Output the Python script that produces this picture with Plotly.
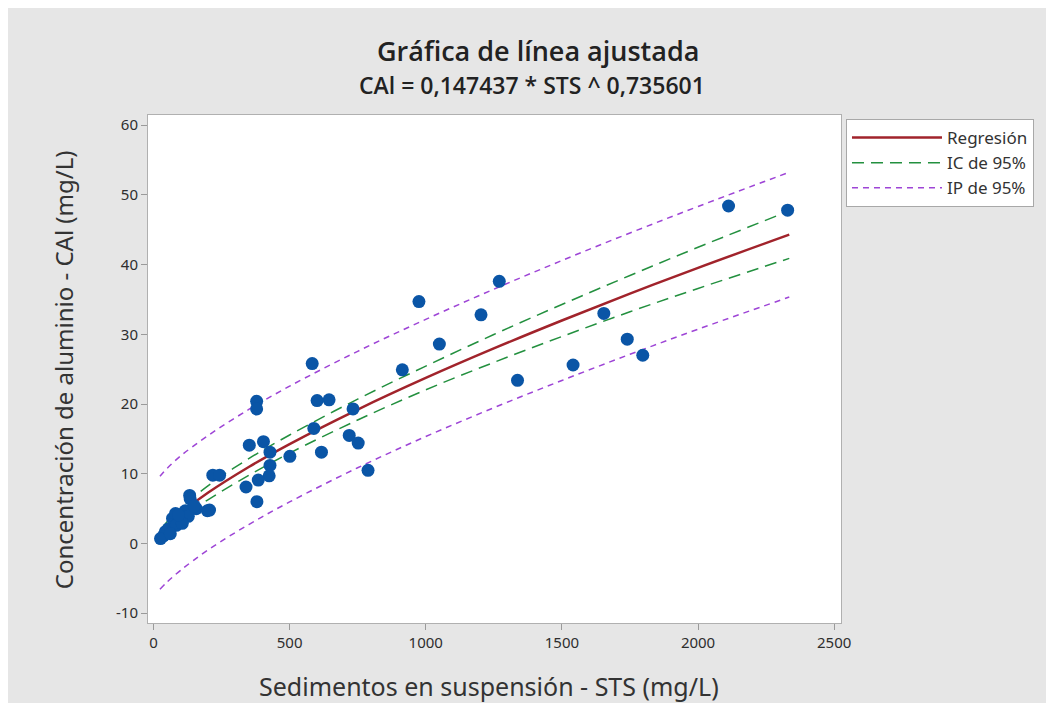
import plotly.graph_objects as go

sts = [2329, 2112, 1654, 1740, 1797, 1541, 1270, 975, 1203, 1050, 914, 583, 1337,
       601, 645, 733, 589, 719, 752, 617, 788,
       379, 379, 352, 404, 428, 501, 428, 425, 385, 340, 380, 218, 243, 133, 206,
       37, 55, 70, 81, 99, 117, 135, 157, 198, 128, 84, 44, 26, 62, 106, 92, 150]
cal = [47.8, 48.4, 33.0, 29.3, 27.0, 25.6, 37.6, 34.7, 32.8, 28.6, 24.9, 25.8, 23.4,
       20.5, 20.6, 19.3, 16.5, 15.5, 14.4, 13.1, 10.5,
       20.4, 19.3, 14.1, 14.6, 13.1, 12.5, 11.2, 9.7, 9.1, 8.1, 6.0, 9.8, 9.8, 6.9, 4.8,
       1.1, 2.1, 3.6, 4.3, 3.6, 4.7, 6.4, 5.0, 4.7, 3.9, 2.6, 1.7, 0.7, 1.4, 2.9, 4.1, 5.4]

# Fitted line, confidence and prediction bands
curve_x = [24, 50, 100, 200, 350, 500, 750, 1000, 1250, 1500, 1750, 2000, 2335]
fit_y = [1.53, 2.62, 4.36, 7.27, 10.97, 14.26, 19.21, 23.74, 27.97, 31.98, 35.83, 39.53, 44.29]
ci_up = [1.83, 3.12, 5.06, 8.27, 12.17, 15.56, 20.71, 25.44, 29.97, 34.28, 38.43, 42.48, 47.69]
ci_lo = [1.23, 2.12, 3.66, 6.27, 9.77, 12.96, 17.71, 22.04, 25.97, 29.68, 33.23, 36.58, 40.89]
pi_up = [9.63, 10.77, 12.56, 15.47, 19.22, 22.56, 27.56, 32.14, 36.47, 40.58, 44.53, 48.33, 53.24]
pi_lo = [-6.57, -5.53, -3.84, -0.93, 2.72, 5.96, 10.86, 15.34, 19.47, 23.38, 27.13, 30.73, 35.34]

x_ticks = [0, 500, 1000, 1500, 2000, 2500]
y_ticks = [-10, 0, 10, 20, 30, 40, 50, 60]

FONT = "Noto Sans"
TITLE_FONT = "Open Sans"
RED = "#A1232B"
GREEN = "#23903F"
PURPLE = "#9E45D6"
BLUE = "#0A55A6"

fig = go.Figure()
fig.add_trace(go.Scatter(x=curve_x, y=fit_y, mode="lines", name="Regresión",
                         line=dict(color=RED, width=2.5, shape="spline")))
fig.add_trace(go.Scatter(x=curve_x, y=ci_up, mode="lines", name="IC de 95%", legendgroup="ci",
                         line=dict(color=GREEN, width=1.5, dash="12px,7px", shape="spline")))
fig.add_trace(go.Scatter(x=curve_x, y=ci_lo, mode="lines", name="IC de 95%", legendgroup="ci",
                         showlegend=False,
                         line=dict(color=GREEN, width=1.5, dash="12px,7px", shape="spline")))
fig.add_trace(go.Scatter(x=curve_x, y=pi_up, mode="lines", name="IP de 95%", legendgroup="pi",
                         line=dict(color=PURPLE, width=1.5, dash="6px,5px", shape="spline")))
fig.add_trace(go.Scatter(x=curve_x, y=pi_lo, mode="lines", name="IP de 95%", legendgroup="pi",
                         showlegend=False,
                         line=dict(color=PURPLE, width=1.5, dash="6px,5px", shape="spline")))
fig.add_trace(go.Scatter(x=sts, y=cal, mode="markers", showlegend=False,
                         marker=dict(color=BLUE, size=13, line=dict(width=0))))

# Page has an 8px body margin; positions below are given in window pixels.
OFF = 8
W, H = 1038, 695
plot_left, plot_right, plot_top, plot_bottom = 148, 843, 115, 623
L = plot_left - OFF
R = W - (plot_right - OFF)
T = plot_top - OFF
B = H - (plot_bottom - OFF)
pw, ph = W - L - R, H - T - B


def px_to_paper_x(px):
    return (px - OFF - L) / pw


def py_to_paper_y(py):
    return (H - B - (py - OFF)) / ph


fig.update_layout(
    width=W, height=H,
    margin=dict(l=L, r=R, t=T, b=B),
    paper_bgcolor="#E6E6E6",
    plot_bgcolor="white",
    font=dict(family=FONT, color="#333333"),
    legend=dict(x=px_to_paper_x(848), y=py_to_paper_y(119), xanchor="left", yanchor="top",
                bgcolor="white", bordercolor="#A8A8A8", borderwidth=1,
                font=dict(size=17, family=FONT, color="#333333"),
                itemwidth=90, tracegroupgap=0),
    xaxis=dict(range=[-20, 2525], tickvals=x_ticks, ticktext=[str(v) for v in x_ticks],
               ticks="outside", ticklen=6, tickcolor="#9A9A9A",
               showline=True, mirror=True, linecolor="#B0B0B0", linewidth=1,
               showgrid=False, zeroline=False,
               tickfont=dict(size=15, family=FONT, color="#2E2E2E")),
    yaxis=dict(range=[-11.4, 61.45], tickvals=y_ticks, ticktext=[str(v) for v in y_ticks],
               ticks="outside", ticklen=6, tickcolor="#9A9A9A",
               showline=True, mirror=True, linecolor="#B0B0B0", linewidth=1,
               showgrid=False, zeroline=False,
               tickfont=dict(size=15, family=FONT, color="#2E2E2E")),
    annotations=[
        dict(text="Gráfica de línea ajustada", x=px_to_paper_x(539), y=py_to_paper_y(50),
             xref="paper", yref="paper", showarrow=False, xanchor="center", yanchor="middle",
             font=dict(size=27, family=TITLE_FONT, color="#222222", weight=600)),
        dict(text="CAl = 0,147437 * STS ^ 0,735601", x=px_to_paper_x(533), y=py_to_paper_y(85),
             xref="paper", yref="paper", showarrow=False, xanchor="center", yanchor="middle",
             font=dict(size=23, family=TITLE_FONT, color="#222222", weight=600)),
        dict(text="Sedimentos en suspensión - STS (mg/L)", x=px_to_paper_x(490), y=py_to_paper_y(686),
             xref="paper", yref="paper", showarrow=False, xanchor="center", yanchor="middle",
             font=dict(size=25, family=FONT, color="#333333")),
        dict(text="Concentración de aluminio - CAl (mg/L)", x=px_to_paper_x(63), y=py_to_paper_y(370),
             xref="paper", yref="paper", showarrow=False, xanchor="center", yanchor="middle",
             textangle=-90, font=dict(size=24, family=FONT, color="#333333")),
    ],
)

fig.write_html("out.html")
